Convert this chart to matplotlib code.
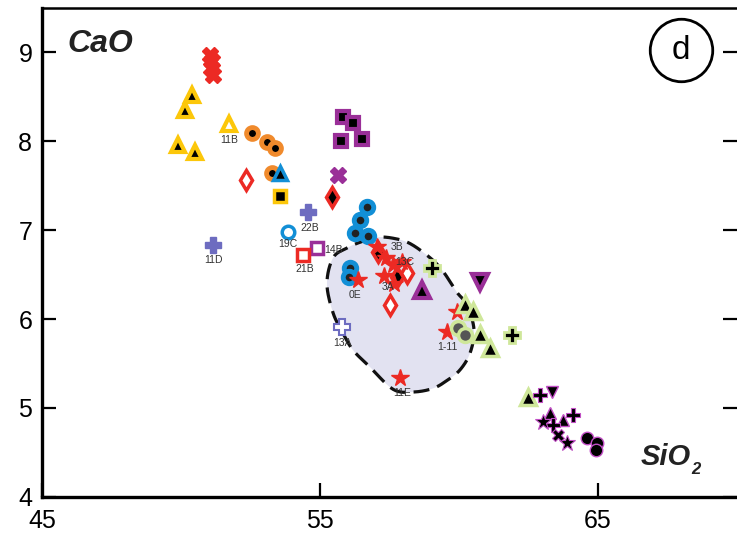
import numpy as np
import matplotlib
matplotlib.use("Agg")
import matplotlib.pyplot as plt

plt.rcParams['font.family'] = ['Liberation Sans', 'DejaVu Sans']

# --- field outline (SiO2, CaO) ---
field_x = [56.44, 57.05, 57.63, 58.24, 58.96, 59.42, 59.93, 60.29, 60.54, 60.40, 60.04,
           59.57, 59.06, 58.35, 57.63, 56.80, 56.19, 55.83, 55.47, 55.25, 55.47, 55.97]
field_y = [6.865, 6.92, 6.91, 6.85, 6.69, 6.54, 6.30, 6.16, 5.88, 5.62, 5.43,
           5.31, 5.22, 5.18, 5.21, 5.46, 5.65, 5.84, 6.07, 6.40, 6.69, 6.80]

# --- sample groups ---
red_x_x = [51.05, 51.12, 51.08, 51.15]
red_x_y = [8.97, 8.90, 8.82, 8.75]

yellow_tri_x = [50.40, 50.14, 49.89, 50.50]
yellow_tri_y = [8.52, 8.35, 7.96, 7.88]

yellow_open_tri_x = [51.73]
yellow_open_tri_y = [8.20]

orange_circ_x = [52.55, 53.09, 53.38, 53.27]
orange_circ_y = [8.09, 7.99, 7.92, 7.64]

blue_tri_x = [53.56]
blue_tri_y = [7.64]

yellow_sq_x = [53.56]
yellow_sq_y = [7.39]

red_open_dia_x = [52.34, 58.13, 57.52]
red_open_dia_y = [7.56, 6.52, 6.16]

red_dia_x = [55.43, 57.09, 57.77]
red_dia_y = [7.37, 6.75, 6.47]

purple_x_x = [55.65]
purple_x_y = [7.62]

purple_sq_x = [55.83, 56.19, 55.76, 56.51]
purple_sq_y = [8.27, 8.21, 8.00, 8.03]

lav_plus_x = [54.57, 51.15]
lav_plus_y = [7.20, 6.83]

lav_open_plus_x = [55.79]
lav_open_plus_y = [5.91]

blue_circ_x = [56.69, 56.44, 56.26, 56.73, 56.08, 56.04]
blue_circ_y = [7.26, 7.11, 6.97, 6.94, 6.57, 6.47]

blue_open_circ_x = [53.85]
blue_open_circ_y = [6.98]

purple_open_sq_x = [54.89]
purple_open_sq_y = [6.80]

red_open_sq_x = [54.39]
red_open_sq_y = [6.72]

red_star_x = [57.05, 57.37, 57.63, 57.30, 57.66, 57.95, 56.37, 57.88, 59.57, 59.93]
red_star_y = [6.81, 6.69, 6.61, 6.48, 6.39, 6.64, 6.44, 5.34, 5.85, 6.08]

purple_tri_x = [58.67, 63.27, 63.74]
purple_tri_y = [6.33, 4.94, 4.87]

purple_inv_x = [60.76, 63.35]
purple_inv_y = [6.42, 5.18]

lime_plus_x = [59.03, 61.91]
lime_plus_y = [6.58, 5.82]

lime_tri_x = [60.22, 60.50, 60.75, 61.12, 62.48]
lime_tri_y = [6.17, 6.09, 5.83, 5.67, 5.12]

gray_circ_x = [59.96, 60.22]
gray_circ_y = [5.90, 5.82]

purple_plus_x = [62.91, 63.38, 64.10]
purple_plus_y = [5.15, 4.81, 4.92]

purple_star_x = [63.02, 63.88]
purple_star_y = [4.84, 4.61]

purple_cross_x = [63.56]
purple_cross_y = [4.70]

purple_circ_x = [64.60, 64.96, 64.93]
purple_circ_y = [4.66, 4.61, 4.53]

# sample labels
lab_text = ["11B", "22B", "19C", "14B", "21B", "11D", "0E", "13A", "3B", "13C", "3A", "11E", "1-11"]
lab_x = [51.73, 54.64, 53.85, 55.47, 54.46, 51.15, 56.26, 55.79, 57.77, 58.06, 57.45, 57.95, 59.57]
lab_y = [8.01, 7.02, 6.85, 6.78, 6.56, 6.66, 6.27, 5.73, 6.81, 6.64, 6.36, 5.17, 5.69]

x_ticks = [45, 55, 65]
y_ticks = [4, 5, 6, 7, 8, 9]


def smooth_loop(xs, ys, n=16):
    pts = np.column_stack([xs, ys])
    m = len(pts)
    t = np.linspace(0, 1, n, endpoint=False)[:, None]
    out = []
    for i in range(m):
        p0, p1, p2, p3 = pts[i - 1], pts[i], pts[(i + 1) % m], pts[(i + 2) % m]
        seg = 0.5 * (2 * p1 + (-p0 + p2) * t + (2 * p0 - 5 * p1 + 4 * p2 - p3) * t ** 2
                     + (-p0 + 3 * p1 - 3 * p2 + p3) * t ** 3)
        out.append(seg)
    out = np.vstack(out + [pts[:1]])
    return out[:, 0], out[:, 1]


def dots(ax, x, y, marker, face, edge, ms, mew, z=4):
    ax.plot(x, y, linestyle='none', marker=marker, markersize=ms, markerfacecolor=face,
            markeredgecolor=edge, markeredgewidth=mew, zorder=z)


fig = plt.figure(figsize=(7.37, 5.36), dpi=100)
ax = fig.add_axes([0.057, 0.073, 0.943, 0.912])

fx, fy = smooth_loop(field_x, field_y)
ax.fill(fx, fy, color='#e2e2f1', zorder=1, lw=0)
ax.plot(fx, fy, color='#111111', lw=2.3, dashes=(5, 2.6), zorder=2)

red = '#ec2a24'
yellow = '#fcc70a'
orange = '#f08a2c'
blue = '#128fd6'
purple = '#9a2f98'
lav = '#6d6cc0'
lime = '#cfe79a'
magenta = '#c24fc6'

dots(ax, red_x_x, red_x_y, 'X', red, red, 11, 1)
dots(ax, yellow_tri_x, yellow_tri_y, '^', 'black', yellow, 10, 3)
dots(ax, yellow_open_tri_x, yellow_open_tri_y, '^', 'white', yellow, 10, 3)
dots(ax, orange_circ_x, orange_circ_y, 'o', 'black', orange, 8.5, 3.5)
dots(ax, blue_tri_x, blue_tri_y, '^', 'black', blue, 10, 2.5)
dots(ax, yellow_sq_x, yellow_sq_y, 's', 'black', yellow, 8, 2.5)
dots(ax, red_open_dia_x, red_open_dia_y, 'd', 'white', red, 10.5, 2.5)
dots(ax, red_dia_x, red_dia_y, 'd', 'black', red, 10.5, 2.5)
dots(ax, purple_x_x, purple_x_y, 'X', purple, purple, 12, 1)
dots(ax, purple_sq_x, purple_sq_y, 's', 'black', purple, 9, 3)
dots(ax, lav_plus_x, lav_plus_y, 'P', lav, lav, 12, 1)
dots(ax, lav_open_plus_x, lav_open_plus_y, 'P', 'white', lav, 11, 1.5)
dots(ax, blue_circ_x, blue_circ_y, 'o', '#222222', blue, 9, 3.5)
dots(ax, blue_open_circ_x, blue_open_circ_y, 'o', 'white', blue, 9, 2.5)
dots(ax, purple_open_sq_x, purple_open_sq_y, 's', 'white', purple, 9, 2.5)
dots(ax, red_open_sq_x, red_open_sq_y, 's', 'white', red, 9, 2.5)
dots(ax, red_star_x, red_star_y, '*', red, red, 13, 1)
dots(ax, gray_circ_x, gray_circ_y, 'o', '#555555', lime, 10, 2.5)
dots(ax, purple_tri_x[:1], purple_tri_y[:1], '^', 'black', purple, 11, 3)
dots(ax, purple_inv_x[:1], purple_inv_y[:1], 'v', 'black', purple, 11, 3)
dots(ax, lime_plus_x, lime_plus_y, 'P', 'black', lime, 12, 2)
dots(ax, lime_tri_x, lime_tri_y, '^', 'black', lime, 11, 2.5)

# tight cluster of the right-hand group
dots(ax, purple_tri_x[1:], purple_tri_y[1:], '^', 'black', magenta, 9, 1)
dots(ax, purple_inv_x[1:], purple_inv_y[1:], 'v', 'black', magenta, 9, 1)
dots(ax, purple_plus_x, purple_plus_y, 'P', 'black', magenta, 10, 0.8)
dots(ax, purple_star_x, purple_star_y, '*', 'black', magenta, 12, 0.8)
dots(ax, purple_cross_x, purple_cross_y, 'X', 'black', magenta, 9, 0.8)
dots(ax, purple_circ_x, purple_circ_y, 'o', 'black', magenta, 9, 1)

for t, x, y in zip(lab_text, lab_x, lab_y):
    ax.text(x, y, t, fontsize=7.5, color='#333333', ha='center', va='center', zorder=5)

ax.set_xlim(45, 70)
ax.set_ylim(4, 9.5)
ax.set_xticks(x_ticks)
ax.set_yticks(y_ticks)
ax.tick_params(axis='both', direction='in', length=10, width=1.6, labelsize=18)
ax.tick_params(axis='x', pad=9)
ax.tick_params(axis='y', pad=7, right=True)
for s in ['left', 'bottom']:
    ax.spines[s].set_linewidth(2.4)
ax.spines['top'].set_linewidth(1.8)
ax.spines['right'].set_visible(False)

ax.text(0.036, 0.91, 'CaO', transform=ax.transAxes, fontsize=23, fontweight='bold',
        fontstyle='italic', color='#222222', va='baseline')
sio = ax.text(0.862, 0.065, 'SiO', transform=ax.transAxes, fontsize=21, fontweight='bold',
              fontstyle='italic', color='#222222', va='baseline')
ax.annotate('2', xy=(1, 0), xycoords=sio, xytext=(0, -4), textcoords='offset points',
            fontsize=12, fontweight='bold', fontstyle='italic', color='#222222',
            va='bottom', ha='left')

ax.plot([0.919], [0.914], transform=ax.transAxes, marker='o', markersize=45,
        markerfacecolor='white', markeredgecolor='black', markeredgewidth=2, zorder=6,
        clip_on=False)
ax.text(0.919, 0.914, 'd', transform=ax.transAxes, fontsize=24, ha='center', va='center',
        zorder=7)

fig.savefig('out.png', dpi=100)
